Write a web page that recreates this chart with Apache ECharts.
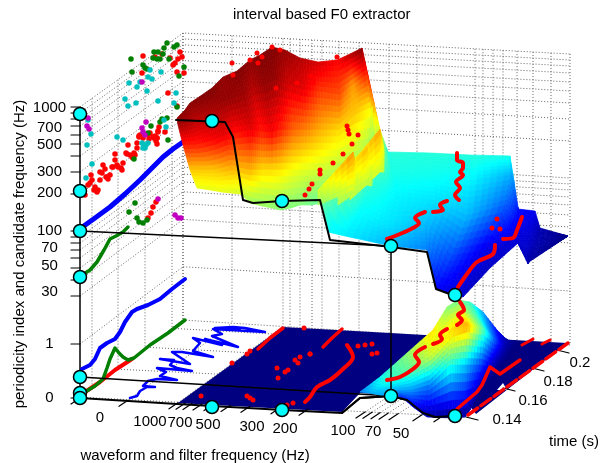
<!DOCTYPE html>
<html><head><meta charset="utf-8">
<style>html,body{margin:0;padding:0;background:#fff}#c{width:601px;height:463px}</style>
<script src="https://cdn.jsdelivr.net/npm/echarts@6/dist/echarts.min.js"></script>
</head><body><div id="c"></div>
<script>
// All values are read in the picture plane of the 3D view: [across, up-the-page, value]
const chartTitle = 'interval based F0 extractor';
const zAxisTickLabels = [['1000',108],['700',128],['500',145],['300',172],['200',193],['100',231],['70',248],['50',266],['30',292],['1',344],['0',398]];
const zLevels = [107,113,119,126,135,144,156,172,194,231,237,243,250,258,268,280,296,344,398];
const freqTickLabels = [['0',100,418],['1000',150,422],['700',180,423],['500',208,425],['300',252,427],['200',285,429],['100',343,431],['70',373,432],['50',401,434]];
const timeTickLabels = [['0.14',507,420],['0.16',533,401],['0.18',558,382],['0.2',580,363]];
const freqFrontTicks = [80,128,178,185,192,202,213,230,250,280,308,365,372,380,388,398,422,443];
const freqBackGrid = [183,232,283,290,300,312,322,339,359,389,417,475,483,493,503,517,533,551];
const timeWallGrid = [92,118,145,172];
const timeEdgeTicks = [[466,417],[503,388],[532,368],[557,350]];

const topSurface = [
 [[177,118,.98],[178,125,.97],[183,145,.85],[190,170,.68],[197,188,.6]],
 [[185,110,.99],[188,122,.96],[195,145,.85],[204,170,.68],[210,190,.6]],
 [[190,103,.99],[195,118,.95],[204,143,.86],[214,170,.68],[222,192,.6]],
 [[202,95,1],[207,112,.96],[215,140,.88],[223,168,.7],[231,193,.59]],
 [[212,88,1],[218,105,.97],[225,135,.9],[232,165,.72],[240,194,.58]],
 [[223,77,.98],[228,100,.98],[236,133,.86],[240,168,.7],[245,198,.55]],
 [[237,71,1],[245,95,.97],[252,130,.9],[250,170,.7],[250,203,.53]],
 [[250,60,.99],[253,88,.95],[262,132,.85],[262,170,.66],[262,206,.52]],
 [[260,55,1],[265,85,.98],[272,132,.88],[272,170,.66],[272,208,.51]],
 [[272,47,1],[275,80,.98],[280,130,.85],[280,170,.65],[280,210,.5]],
 [[285,50,.98],[289,85,.92],[293,130,.78],[292,170,.62],[291,208,.5]],
 [[300,58,.95],[303,90,.9],[305,130,.75],[303,170,.6],[300,205,.5]],
 [[318,62,.92],[320,92,.82],[322,130,.7],[320,170,.58],[311,205,.48]],
 [[337,60,.88],[340,95,.8],[340,130,.66],[335,170,.56],[322,203,.47]],
 [[350,54,.95],[353,85,.72],[355,115,.68],[350,170,.53],[325,215,.42]],
 [[362,48,1],[366,75,.85],[372,107,.63],[365,170,.5],[328,232,.37]],
 [[380,130,.62],[382,150,.5],[375,180,.42],[360,210,.38],[345,236,.36]],
 [[388,152,.41],[392,170,.4],[395,195,.37],[388,225,.35],[391,246,.3]],
 [[430,153,.41],[433,175,.39],[435,200,.35],[425,225,.31],[427,250,.25]],
 [[470,155,.41],[470,180,.37],[467,215,.31],[452,255,.2],[436,289,.12]],
 [[510,156,.4],[511,175,.3],[505,205,.22],[485,250,.1],[463,297,.07]],
 [[518,207,.16],[516,220,.13],[512,235,.1],[500,250,.08],[490,268,.07]],
 [[518,209,.14],[519,220,.12],[518,230,.1],[516,240,.09],[518,243,.08]],
 [[535,211,.11],[532,225,.09],[528,240,.08],[527,252,.07],[528,264,.05]],
 [[540,228,.05],[538,235,.05],[536,245,.05],[532,255,.04],[529,262,.04]],
 [[568,236,.01],[568,236,.01],[568,236,.01],[568,236,.01],[568,236,.01]]
];
const wedgeA = [[[350,165,.6],[350,200,.56]],[[380,129,.72],[380,172,.58]],[[384,150,.6],[384,172,.56]]];
const wedgeB = [[[338,175,.6],[338,205,.54]],[[367,147,.7],[367,185,.56]],[[372,172,.58],[372,186,.54]]];
const wedgeC = [[[318,190,.58],[318,205,.52]],[[353,152,.74],[353,190,.58]],[[358,178,.58],[358,192,.55]]];
const bumpSurface = [
 [[360,392,.25],[370,393,.3],[380,395,.3],[390,397,.22]],
 [[380,377,.38],[388,380,.42],[397,390,.3],[403,398,.15]],
 [[407,353,.52],[410,370,.47],[412,390,.28],[413,407,.1]],
 [[433,330,.66],[432,355,.58],[430,385,.25],[427,417,.04]],
 [[447,307,.5],[453,332,.67],[450,365,.42],[453,418,.01]],
 [[458,300,.48],[468,326,.72],[465,365,.33],[465,417,.02]],
 [[470,302,.44],[485,330,.44],[482,365,.18],[470,410,.03]],
 [[483,312,.3],[495,340,.22],[490,368,.07],[480,390,.02]],
 [[497,330,.14],[505,345,.05],[507,352,.02],[507,357,.01]],
 [[507,340,.04],[512,342,.02],[514,344,.01],[515,346,0]],
 [[520,342,0],[520,343,0],[520,344,0],[520,345,0]]
];
const floorOutline = [[178,403],[283,327],[567,343],[476,414],[465,400],[360,393],[342,412]];
const floorNotch = [[497,390],[503,383],[507,390]];

const blueUpper = [[81,228],[95,218],[110,207],[125,194],[140,180],[152,168],[163,157],[173,149],[183,142]];
const greenUpper = [[82,275],[90,270],[97,262],[104,250],[110,239],[116,236],[123,232],[128,227]];
const blueLower = [[82,369],[90,365],[95,359],[100,348],[107,343],[115,339],[120,332],[125,322],[132,312],[137,309],[148,305],[160,299],[172,289],[185,279]];
const greenLower = [[85,392],[95,386],[103,379],[107,368],[110,359],[115,348],[119,353],[123,357],[128,360],[134,358],[150,345],[168,333],[185,320]];
const redLower = [[85,392],[100,382],[115,370],[132,359]];
const waveform = [[130,398],[137,396],[140,391],[147,387],[155,387],[143,386],[148,381],[157,379],[177,380],[160,376],[166,372],[157,368],[192,371],[177,368],[170,365],[174,360],[160,359],[190,364],[178,356],[172,352],[182,352],[213,357],[193,351],[200,343],[193,338],[222,345],[205,339],[238,347],[212,336],[222,334],[213,329],[265,332],[245,328],[233,327],[215,328],[240,330]];

const contourTop = [[176,120],[225,122],[233,137],[243,200],[253,203],[282,201],[320,200],[330,240],[391,247],[427,252],[436,289],[455,296]];
const contourThin = [[80,231],[391,246]];
const contourMid = [[80,377],[391,396]];
const contourFloor = [[80,398],[177,404],[283,410],[342,413],[360,398],[391,396],[407,400],[423,413],[435,417],[455,416]];
const axisLine = [[80,114],[80,398]];
const dropLine = [[391,246],[391,396]];
const markers = [[80,114],[80,191],[80,231],[80,277],[80,377],[80,393],[80,398],[212,121],[282,201],[391,246],[455,295],[212,407],[282,410],[391,396],[455,416]];

const redWall = [[85,195],[88,185],[92,180],[91,175],[95,187],[98,190],[100,180],[102,173],[103,165],[105,169],[107,177],[110,175],[113,167],[115,160],[115,154],[118,167],[122,170],[123,163],[126,153],[130,155],[133,158],[135,155],[128,145],[137,148],[140,135],[143,138],[150,133],[153,137],[157,138],[158,132],[165,132],[90,183],[94,190],[97,192],[100,172],[106,177],[108,179],[112,167],[117,165],[121,168],[127,154],[132,157],[134,153],[137,143],[139,137],[148,135],[154,138],[156,141],[143,56],[162,54],[155,57],[170,58],[175,63],[180,52],[182,57],[178,59],[173,65],[177,72],[184,73],[142,73],[168,93],[177,106],[159,127],[158,131],[155,136],[157,138],[139,136],[147,134],[149,139],[157,144],[148,218],[151,213],[153,207],[156,202]];
const greenWall = [[131,59],[154,52],[158,52],[167,43],[177,45],[174,47],[164,48],[153,58],[157,59],[160,59],[163,54],[169,59],[184,67],[179,76],[132,72],[143,65],[145,68],[147,69],[162,119],[160,122],[167,118],[151,126],[148,133],[168,140],[177,107],[134,159],[129,212],[135,203],[137,218],[139,222],[143,223],[147,220]];
const cyanWall = [[150,70],[161,72],[152,79],[148,77],[129,83],[140,82],[137,87],[147,91],[176,93],[125,99],[136,103],[128,106],[158,101],[174,103],[88,120],[91,134],[87,145],[117,137],[123,140],[166,127],[164,120],[142,143],[144,145],[146,145],[143,148],[145,148],[148,143],[86,178],[92,164]];
const magentaWall = [[88,118],[87,126],[89,129],[142,82],[146,122],[142,128],[143,132],[145,135],[158,199],[175,215],[178,218],[181,218]];

const redSurfaceDots = [[232,63],[233,75],[250,60],[257,53],[262,57],[258,63],[272,47],[280,50],[276,88],[297,83],[337,57],[311,76],[313,82],[347,126],[348,130],[349,134],[358,135],[352,144],[343,154],[333,163],[320,170],[320,174],[312,184],[309,189],[305,195],[492,228],[500,229],[497,219],[304,328],[310,354],[300,357]];
const redPlateau = [[457,153],[457,160],[463,163],[463,168],[460,172],[463,175],[456,182],[460,188],[455,195],[459,200]];
const redPlateau2 = [[447,201],[440,205],[443,210],[433,212]];
const redPlateau3 = [[425,212],[415,218],[419,223],[413,228],[400,234],[387,239]];
const redRight = [[522,217],[517,230],[513,238],[503,239]];
const redRight2 = [[495,245],[493,254],[477,262],[467,274],[458,287]];
const redBump = [[460,302],[464,310],[458,315],[462,320],[457,325]];
const redBump2 = [[447,329],[440,335],[442,339],[433,344]];
const redBump3 = [[425,347],[415,355],[419,362],[413,369],[400,377],[387,380]];
const redSide = [[457,409],[477,392],[482,385],[490,367],[500,374],[520,360]];
const redBack1 = [[522,345],[533,339]];
const redBack2 = [[542,344],[550,340]];
const redEdge = [[468,415],[568,343]];
const redFloorA = [[258,349],[270,338],[283,328]];
const redFloorB = [[305,402],[310,397],[317,387],[330,380],[343,369],[353,357],[347,345]];
const redFloorC = [[323,347],[332,338],[342,329]];
const redFloorDots = [[232,363],[247,354],[250,351],[201,396],[247,396],[253,400],[250,398],[293,403],[287,405],[277,368],[278,378],[288,370],[285,372],[295,360],[298,363],[358,346],[365,345],[372,344],[377,353],[372,354],[310,354]];

const FONT = 'Liberation Sans';
function jet(v){
  v = Math.max(0, Math.min(1, v));
  const f = (c)=>Math.round(255*Math.max(0, Math.min(1, 1.5-Math.abs(4*v-c))));
  return 'rgb('+f(3)+','+f(2)+','+f(1)+')';
}
function lerp(a,b,t){return a+(b-a)*t;}
function meshSeries(mesh, z){
  const cells = [];
  for(let i=0;i<mesh.length-1;i++) for(let j=0;j<mesh[0].length-1;j++) cells.push([i,j]);
  const N = 6;
  return {type:'custom', coordinateSystem:'cartesian2d', data:cells, z:z, silent:true, clip:false,
    renderItem(params, api){
      const i=api.value(0), j=api.value(1);
      const a=mesh[i][j], b=mesh[i+1][j], c=mesh[i+1][j+1], d=mesh[i][j+1];
      const P=(s,t)=>[0,1,2].map(k=>lerp(lerp(a[k],b[k],s),lerp(d[k],c[k],s),t));
      const children=[];
      for(let p=0;p<N;p++) for(let q=0;q<N;q++){
        const p1=P(p/N,q/N),p2=P((p+1)/N,q/N),p3=P((p+1)/N,(q+1)/N),p4=P(p/N,(q+1)/N);
        const col=jet((p1[2]+p2[2]+p3[2]+p4[2])/4);
        children.push({type:'polygon',shape:{points:[p1,p2,p3,p4].map(x=>api.coord([x[0],x[1]]))},
          style:{fill:col,stroke:col,lineWidth:0.7}});
      }
      return {type:'group',children};
    }};
}
function polyFill(points,color,z){
  return {type:'custom',coordinateSystem:'cartesian2d',data:[[0,0]],z:z,silent:true,clip:false,
    renderItem(p,api){return {type:'polygon',shape:{points:points.map(q=>api.coord(q))},style:{fill:color}};}};
}
function line(data,color,width,z,extra){
  return Object.assign({type:'line',data:data,showSymbol:false,symbol:'none',z:z,silent:true,clip:false,animation:false,connectNulls:false,
    lineStyle:{color:color,width:width,cap:'round',join:'round'}},extra||{});
}
function wiggle(data){ return line(data,'#ff0000',4,12,{smooth:0.35}); }
function dots(data,color,size,z){
  return {type:'scatter',data:data,symbolSize:size,itemStyle:{color:color,opacity:1},z:z,silent:true,clip:false};
}
function textSeries(items,size,z){
  return {type:'custom',coordinateSystem:'cartesian2d',data:items.map((t,i)=>[t.x,t.y,i]),z:z,silent:true,clip:false,
    renderItem(p,api){
      const t=items[api.value(2)], c=api.coord([t.x,t.y]);
      return {type:'text',x:c[0],y:c[1],rotation:t.rot||0,style:{text:t.text,font:size+'px "'+FONT+'"',fill:'#000',align:t.align||'center',verticalAlign:'middle'}};
    }};
}
// dotted box grid, built from the tick lists
const frontY = x => 398+(x-80)*19/386;
const backBottom = x => 320+(x-183)*25/387;
const backTop = x => 33+(x-183)*21/387;
const gridDots = [];
zLevels.forEach(y=>{
  const f=(y-107)/(398-107);
  const by=lerp(33,320,f), ry=lerp(54,345,f);
  gridDots.push([80,y],[183,by],[570,ry],null);
});
timeWallGrid.forEach(x=>{
  gridDots.push([x,107-(x-80)*74/103],[x,398-(x-80)*78/103],null);
});
freqBackGrid.forEach(x=>{ gridDots.push([x,backTop(x)],[x,backBottom(x)],null); });
freqFrontTicks.forEach((x,i)=>{
  const bx=freqBackGrid[Math.min(i,freqBackGrid.length-1)];
  gridDots.push([x,frontY(x)],[bx,backBottom(bx)],null);
});
timeEdgeTicks.forEach(p=>{ gridDots.push([p[0]-385,398-(p[0]-385-80)*78/103],[p[0],p[1]],null); });
gridDots.push([183,33],[183,320],null,[570,54],[570,345],null);

const ticks=[];
zLevels.forEach(y=>{ticks.push([71,y],[80,y],null);});
freqFrontTicks.forEach(x=>{ticks.push([x,frontY(x)],[x-9,frontY(x)+6],null);});
timeEdgeTicks.forEach(p=>{ticks.push([p[0],p[1]],[p[0]+12,p[1]+3],null);});

const labels=[];
zAxisTickLabels.forEach(t=>labels.push({text:t[0],x:49.5,y:t[1]}));
freqTickLabels.forEach(t=>labels.push({text:t[0],x:t[1],y:t[2]}));
timeTickLabels.forEach(t=>labels.push({text:t[0],x:t[1],y:t[2]}));
labels.push({text:'periodicity index and candidate frequency (Hz)',x:20,y:254,rot:Math.PI/2});
labels.push({text:'waveform and filter frequency (Hz)',x:195,y:456});
labels.push({text:'time (s)',x:574,y:442});

const chart=echarts.init(document.getElementById('c'),null,{renderer:'canvas'});
const dot=[1,2];
chart.setOption({
  animation:false,
  backgroundColor:'#fff',
  title:{text:chartTitle,left:228,top:2,textStyle:{fontFamily:FONT,fontSize:15,fontWeight:'normal',color:'#000'}},
  grid:{left:0,right:0,top:0,bottom:0},
  xAxis:{type:'value',min:0,max:601,show:false},
  yAxis:{type:'value',min:0,max:463,inverse:true,show:false},
  series:[
    line(gridDots,'#666',1,1,{lineStyle:{color:'#666',width:1,type:dot}}),
    polyFill(floorOutline,'#000080',2),
    polyFill(floorNotch,'#fff',3),
    line(waveform,'#0000ff',2.5,4),
    line(ticks,'#000',1.2,5),
    line(axisLine,'#000',1.5,5),
    dots(redWall,'#ff0000',5.5,6),dots(greenWall,'#007f00',5.5,6),dots(cyanWall,'#00bfbf',5.5,6),dots(magentaWall,'#bf00bf',5.5,6),
    line(blueUpper,'#0000ff',5,6),line(greenUpper,'#007f00',3.5,6),
    line(blueLower,'#0000ff',4,6),line(redLower,'#ff0000',4,6),line(greenLower,'#007f00',3.5,6),
    line(redFloorA,'#ff0000',3.5,7),wiggle(redFloorB),line(redFloorC,'#ff0000',3.5,7),dots(redFloorDots,'#ff0000',5,7),
    line(contourFloor,'#000',2,8),line(contourMid,'#000',1.5,8),line(contourThin,'#000',1.5,8),
    meshSeries(bumpSurface,9),
    meshSeries(topSurface,10),
    meshSeries(wedgeA,10),meshSeries(wedgeB,10),meshSeries(wedgeC,10),
    line(contourTop,'#000',2,11),line(dropLine,'#000',1.5,11),
    line(contourFloor.slice(3),'#000',2,11),
    wiggle(redPlateau),wiggle(redPlateau2),wiggle(redPlateau3),
    wiggle(redRight),wiggle(redRight2),
    wiggle(redBump),wiggle(redBump2),wiggle(redBump3),
    line(redSide,'#ff0000',3.5,12),line(redBack1,'#ff0000',3,12),line(redBack2,'#ff0000',3,12),
    line(redEdge,'#ff0000',3.5,12,{lineStyle:{color:'#ff0000',width:3.5,type:[12,4],cap:'round'}}),
    dots(redSurfaceDots,'#ff0000',5,12),
    {type:'scatter',data:markers,symbolSize:13,z:14,silent:true,clip:false,itemStyle:{color:'#00ffff',borderColor:'#000',borderWidth:1.5,opacity:1}},
    textSeries(labels,15,15)
  ]
});
</script></body></html>
